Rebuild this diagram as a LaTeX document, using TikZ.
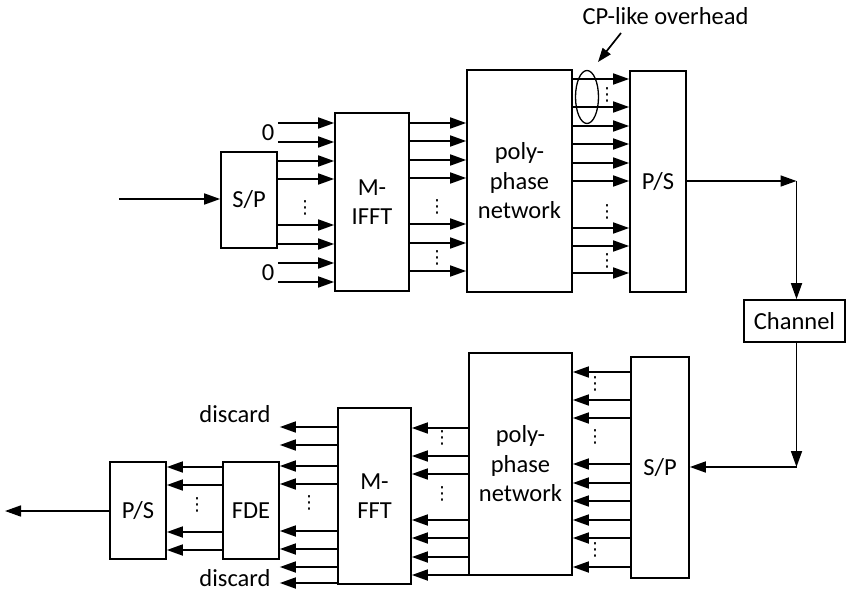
\documentclass[tikz,border=0pt]{standalone}
\usepackage{fontspec}
\setmainfont{Carlito}
\newfontfamily\dvfont{DejaVu Sans}
\usetikzlibrary{arrows.meta}
\begin{document}
\begin{tikzpicture}[x=1pt,y=-1pt, line width=1.7pt,
 box/.style={draw, rectangle, inner sep=0pt, align=center, font=\fontsize{24.5}{29.5}\selectfont},
 arr/.style={-{Triangle[length=16pt,width=11pt]}},
 lbl/.style={font=\fontsize{24.5}{29.5}\selectfont, inner sep=0pt},
 vdot/.style={font=\dvfont\fontsize{18}{18}\selectfont, inner sep=0pt}]
\useasboundingbox (0,0) rectangle (846,592);
% top chain
\node[box, minimum width=56pt, minimum height=96pt] (SP1) at (249,200) {S/P};
\node[box, minimum width=74pt, minimum height=178pt] (IFFT) at (372,202) {M-\\IFFT};
\node[box, minimum width=105pt, minimum height=222pt] (PP1) at (519.5,181) {poly-\\phase\\network};
\node[box, minimum width=56pt, minimum height=221pt] (PS1) at (658,181.5) {P/S};
\node[box, minimum width=101pt, minimum height=42pt] (CH) at (794.5,321) {Channel};
% bottom chain
\node[box, minimum width=58pt, minimum height=221pt] (SP2) at (660,467.5) {S/P};
\node[box, minimum width=103pt, minimum height=222pt] (PP2) at (520.5,464) {poly-\\phase\\network};
\node[box, minimum width=73pt, minimum height=176pt] (FFT) at (374.5,496) {M-\\FFT};
\node[box, minimum width=56pt, minimum height=97pt] (FDE) at (251,510.5) {FDE};
\node[box, minimum width=56pt, minimum height=97pt] (PS2) at (138,510.5) {P/S};
\coordinate (in) at (119,199);
\coordinate (out) at (5,511);
\coordinate (c1) at (796.5,181);
\coordinate (c2) at (796.5,467);
% top arrows
\draw[arr] (in) -- (SP1.west |- in);
\foreach \y in {123,142,161,179,225,244,263,282}
  \draw[arr] (SP1.east |- 0,\y) -- (IFFT.west |- 0,\y);
\node[lbl] (z1) at (268,133) {0};
\node[lbl] (z2) at (268,272.5) {0};
\node[vdot] (d1) at (305,208) {⋮};
\foreach \y in {123,141,160,178,224,243,271}
  \draw[arr] (IFFT.east |- 0,\y) -- (PP1.west |- 0,\y);
\node[vdot] (d2) at (437,207) {⋮};
\node[vdot] (d3) at (437,258) {⋮};
\foreach \y in {79,107,126,144,163,181,228,246,273}
  \draw[arr] (PP1.east |- 0,\y) -- (PS1.west |- 0,\y);
\node[vdot] (d4) at (607,95) {⋮};
\node[vdot] (d5) at (607,212) {⋮};
\node[vdot] (d6) at (607,261) {⋮};
\draw[line width=1.3pt] (587,97) ellipse [x radius=11.5pt, y radius=26.5pt];
\node[lbl] (cp) at (665.5,16) {CP-like overhead};
\coordinate (cpa) at (621,33);
\coordinate (cpb) at (598,62);
\draw[-{Triangle[length=14pt,width=10pt]}] (cpa) -- (cpb);
\draw[arr] (PS1.east |- c1) -- (c1);
\draw[arr] (c1) -- (c1 |- CH.north);
\draw[arr] (c1 |- CH.south) -- (c2);
\draw[arr] (c2) -- (SP2.east |- c2);
% bottom arrows
\foreach \y in {372,400,418,464,483,501,520,538,567}
  \draw[arr] (SP2.west |- 0,\y) -- (PP2.east |- 0,\y);
\node[vdot] (e1) at (595,384) {⋮};
\node[vdot] (e2) at (595,437) {⋮};
\node[vdot] (e3) at (595,550) {⋮};
\foreach \y in {428,456,474,520,538,557,575}
  \draw[arr] (PP2.west |- 0,\y) -- (FFT.east |- 0,\y);
\node[vdot] (e4) at (442,438) {⋮};
\node[vdot] (e5) at (442,494) {⋮};
\foreach \y in {427,445,466,484,531,549,567,583}
  \draw[arr] (FFT.west |- 0,\y) -- (FDE.east |- 0,\y);
\node[vdot] (e6) at (309,503) {⋮};
\node[lbl] (dc1) at (235,414) {discard};
\node[lbl] (dc2) at (235,578) {discard};
\foreach \y in {467,485,532,550}
  \draw[arr] (FDE.west |- 0,\y) -- (PS2.east |- 0,\y);
\node[vdot] (e7) at (197,505) {⋮};
\draw[arr] (PS2.west |- out) -- (out);
\end{tikzpicture}
\end{document}
